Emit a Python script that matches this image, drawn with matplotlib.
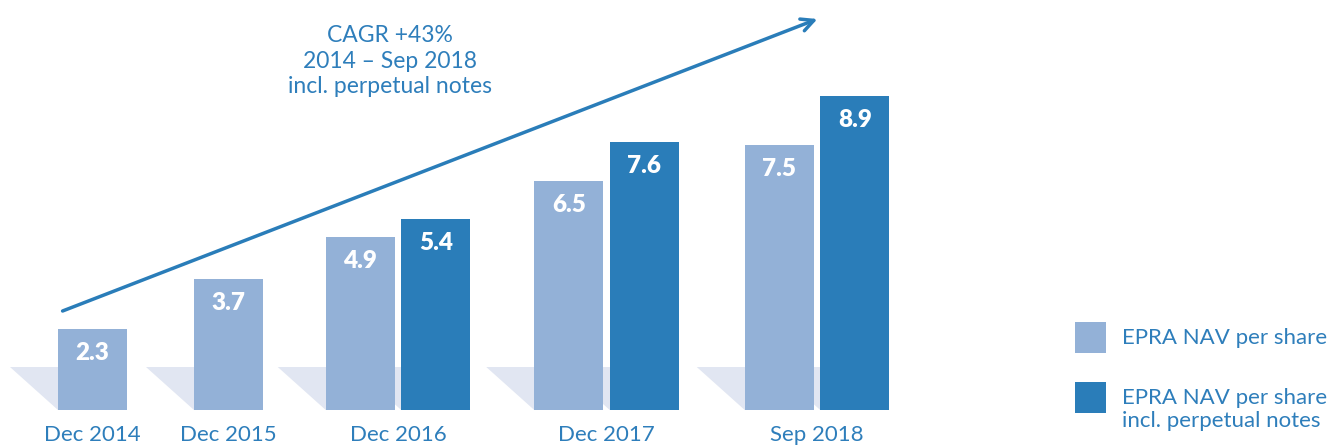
import matplotlib.pyplot as plt
from matplotlib.patches import Polygon, Rectangle

plt.rcParams['font.family'] = ['Lato', 'DejaVu Sans']

# data
periods = ["Dec 2014", "Dec 2015", "Dec 2016", "Dec 2017", "Sep 2018"]
nav = [2.3, 3.7, 4.9, 6.5, 7.5]
nav_perp = [None, None, 5.4, 7.6, 8.9]
series_names = ["EPRA NAV per share", "EPRA NAV per share\nincl. perpetual notes"]
cagr_text = "CAGR +43%\n2014 – Sep 2018\nincl. perpetual notes"

# layout (pixels)
W, H = 1334, 447
centers = [92.5, 228.5, 398, 606.5, 817]
bw = 69
gap = 6.5
base_px = 410
ppu = 35.3  # pixels per unit

light = "#93B1D7"
dark = "#2A7DB9"
shadow = "#E1E6F2"
txt = "#2E7EBB"

fig = plt.figure(figsize=(W / 100, H / 100), dpi=100)
ax = fig.add_axes([0, (H - base_px) / H, 1, base_px / H])
ax.set_xlim(0, W)
ax.set_ylim(0, base_px / ppu)
ax.axis("off")

sh_dx = 48
sh_h = 43 / ppu


def draw_bar(x_left, val, color):
    poly = Polygon([(x_left - sh_dx, sh_h), (x_left + bw - sh_dx, sh_h),
                    (x_left + bw, 0), (x_left, 0)],
                   closed=True, facecolor=shadow, edgecolor="none", zorder=1)
    ax.add_patch(poly)
    ax.bar(x_left, val, width=bw, align="edge", color=color, zorder=2)
    ax.text(x_left + bw / 2, val - 24 / ppu, f"{val:.1f}", ha="center", va="center",
            color="white", fontsize=17.5, fontweight="heavy", zorder=3)


for c, v1, v2, lab in zip(centers, nav, nav_perp, periods):
    if v2 is None:
        draw_bar(c - bw / 2, v1, light)
    else:
        draw_bar(c - gap / 2 - bw, v1, light)
        draw_bar(c + gap / 2, v2, dark)
    fig.text(c / W, 1 - 435 / H, lab, ha="center", va="center", color=txt, fontsize=16)

# growth arrow
ax.annotate("", xy=(820, H - 18), xytext=(60, H - 312),
            xycoords="figure pixels", textcoords="figure pixels",
            arrowprops=dict(arrowstyle="->,head_length=0.9,head_width=0.45",
                            color=dark, lw=2.5))
fig.text(390 / W, 1 - 61 / H, cagr_text, ha="center", va="center", color=txt,
         fontsize=16.5, linespacing=1.25)

# legend
for i, (name, col) in enumerate(zip(series_names, [light, dark])):
    y_top = [322, 382][i]
    fig.patches.append(Rectangle((1075 / W, 1 - (y_top + 31) / H), 31 / W, 31 / H,
                                 transform=fig.transFigure, facecolor=col,
                                 edgecolor="none"))
    fig.text(1122 / W, 1 - (y_top + 6) / H, name, ha="left", va="top", color=txt,
             fontsize=16, linespacing=1.2)

fig.savefig("out.png", dpi=100)
